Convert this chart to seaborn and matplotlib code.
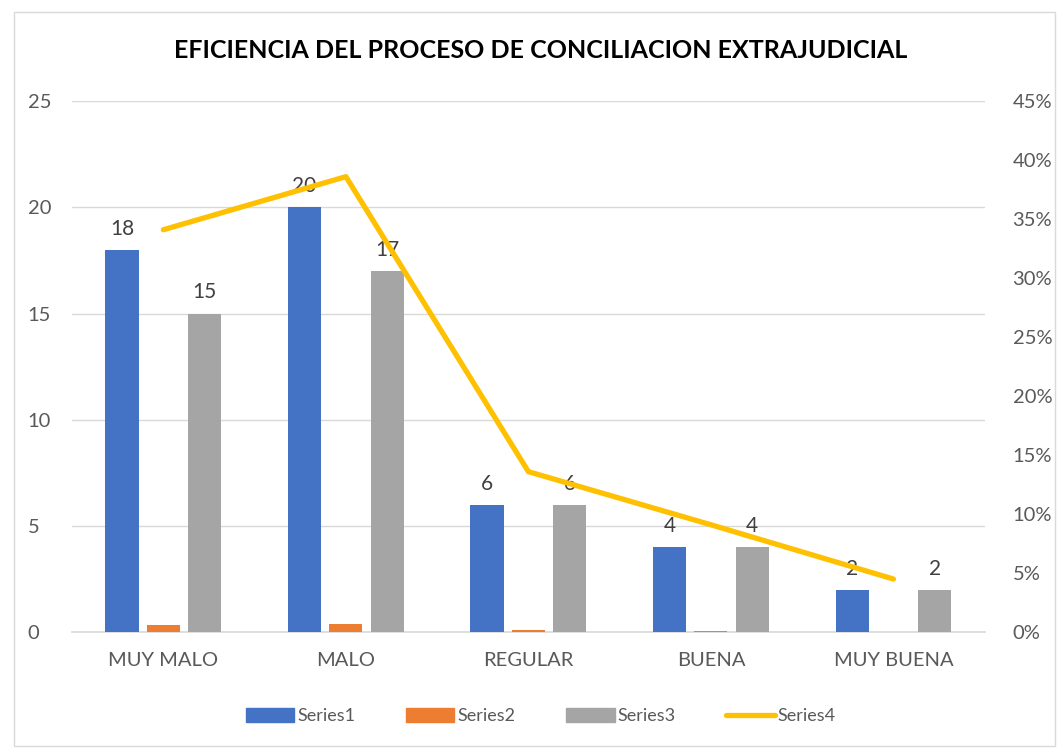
import matplotlib
matplotlib.use("Agg")
import matplotlib.pyplot as plt
import matplotlib.patches as mpatches
from matplotlib.lines import Line2D
from matplotlib.ticker import PercentFormatter
import seaborn as sns
import pandas as pd

categories = ["MUY MALO", "MALO", "REGULAR", "BUENA", "MUY BUENA"]
series1 = [18, 20, 6, 4, 2]
series2 = [0.34, 0.38, 0.11, 0.07, 0.0]
series3 = [15, 17, 6, 4, 2]
series4 = [0.341, 0.386, 0.136, 0.091, 0.045]

colors = {"Series1": "#4472C4", "Series2": "#ED7D31", "Series3": "#A5A5A5"}
lineColor = "#FFC000"
textColor = "#595959"

sns.set_theme(style="white")
plt.rcParams['font.family'] = ['Lato', 'DejaVu Sans']

df = pd.DataFrame({"cat": categories * 3,
                   "val": series1 + series2 + series3,
                   "series": ["Series1"] * 5 + ["Series2"] * 5 + ["Series3"] * 5})

fig = plt.figure(figsize=(10.6, 7.49), dpi=100)
ax = fig.add_axes([0.068, 0.156, 0.861, 0.709])

sns.barplot(data=df, x="cat", y="val", hue="series", palette=colors, order=categories,
            width=0.68, gap=0.2, ax=ax, legend=False, saturation=1, linewidth=0, zorder=3)

# labels on Series1 and Series3 only
for idx in (0, 2):
    ax.bar_label(ax.containers[idx], fmt="%d", padding=8, fontsize=15, color="#404040")

ax.set_ylim(0, 25)
ax.set_yticks([0, 5, 10, 15, 20, 25])
ax.set_xlim(-0.5, 4.5)
ax.set_xlabel("")
ax.set_ylabel("")
ax.grid(axis="y", color="#D9D9D9", linewidth=1)
ax.set_axisbelow(True)
for s in ["top", "right", "left"]:
    ax.spines[s].set_visible(False)
ax.spines["bottom"].set_color("#D9D9D9")
ax.spines["bottom"].set_linewidth(1.2)
ax.spines["bottom"].set_zorder(1)
ax.tick_params(axis="both", length=0, labelsize=14.5, colors=textColor)
ax.tick_params(axis="x", pad=14)
ax.tick_params(axis="y", pad=32)
for lbl in ax.get_yticklabels():
    lbl.set_horizontalalignment("left")

ax2 = ax.twinx()
sns.lineplot(x=list(range(len(categories))), y=series4, color=lineColor, linewidth=3.8,
             ax=ax2, solid_capstyle="round")
ax2.set_ylim(0, 0.45)
ax2.set_yticks([i * 0.05 for i in range(10)])
ax2.yaxis.set_major_formatter(PercentFormatter(1.0, decimals=0))
for s in ax2.spines.values():
    s.set_visible(False)
ax2.tick_params(axis="y", length=0, labelsize=14.5, colors=textColor, pad=20)
ax2.set_xlim(-0.5, 4.5)

fig.text(0.51, 0.933, "EFICIENCIA DEL PROCESO DE CONCILIACION EXTRAJUDICIAL",
         ha="center", va="center", fontsize=18, fontweight="bold", color="black")

handles = [mpatches.Patch(color=colors["Series1"], label="Series1"),
           mpatches.Patch(color=colors["Series2"], label="Series2"),
           mpatches.Patch(color=colors["Series3"], label="Series3"),
           Line2D([0], [0], color=lineColor, linewidth=3.8, solid_capstyle="round", label="Series4")]
fig.legend(handles=handles, loc="center", bbox_to_anchor=(0.51, 0.044), ncol=4, frameon=False,
           fontsize=13, labelcolor=textColor, handlelength=2.7, handleheight=0.8,
           handletextpad=0.15, columnspacing=2.8)

fig.patches.append(mpatches.Rectangle((0.013, 0.004), 0.982, 0.98, transform=fig.transFigure,
                                      fill=False, edgecolor="#D9D9D9", linewidth=1))

fig.savefig("out.png", dpi=100)
